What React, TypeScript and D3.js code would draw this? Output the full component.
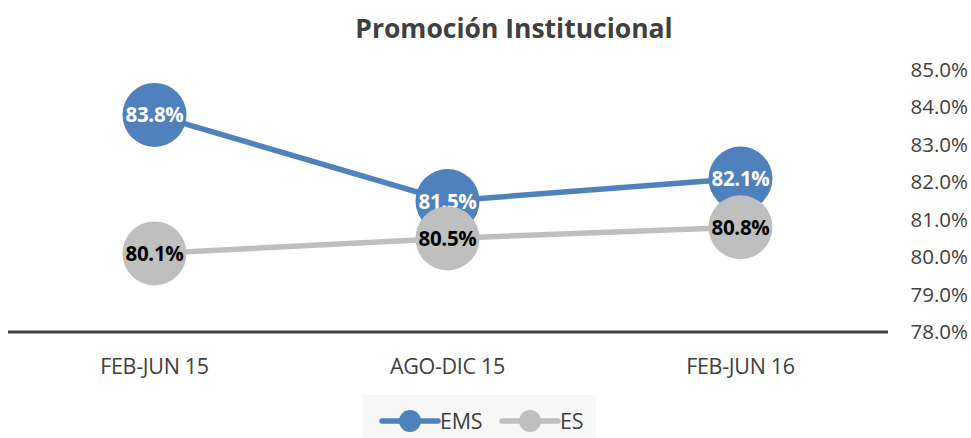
import React from "react";
import * as d3 from "d3";

const categories = ["FEB-JUN 15", "AGO-DIC 15", "FEB-JUN 16"];
const emsValues = [83.8, 81.5, 82.1];
const esValues = [80.1, 80.5, 80.8];
const yTicks = [78, 79, 80, 81, 82, 83, 84, 85];
const seriesNames = ["EMS", "ES"];

const W = 971;
const H = 438;
const FONT = "'Open Sans', 'Noto Sans', sans-serif";

export default function App() {
  const x = d3.scaleBand<string>().domain(categories).range([8, 887]);
  const y = d3.scaleLinear().domain([78, 85]).range([332, 70]);
  const cx = (c: string) => (x(c) as number) + x.bandwidth() / 2;
  const line = d3
    .line<number>()
    .x((_, i) => cx(categories[i]))
    .y((d) => y(d));

  const series = [
    { name: seriesNames[0], values: emsValues, color: "#4F81BD", text: "#ffffff" },
    { name: seriesNames[1], values: esValues, color: "#BFBFBF", text: "#000000" },
  ];

  return (
    <svg width={W} height={H} style={{ position: "absolute", left: 0, top: 0 }} fontFamily={FONT}>
      <rect width={W} height={H} fill="#ffffff" />
      <text x={514} y={38} textAnchor="middle" fontSize={26.5} fontWeight="bold" fill="#404040">
        Promoción Institucional
      </text>
      {yTicks.map((t) => (
        <text key={t} x={968} y={y(t) + 7} textAnchor="end" fontSize={20.5} fill="#404040">
          {d3.format(".1f")(t)}%
        </text>
      ))}
      <line x1={8} x2={888} y1={y(78)} y2={y(78)} stroke="#404040" strokeWidth={3} />
      {categories.map((c) => (
        <text key={c} x={cx(c)} y={374} textAnchor="middle" fontSize={21.5} fill="#404040" letterSpacing={-0.3}>
          {c}
        </text>
      ))}
      {series.map((s) => (
        <g key={s.name}>
          <path d={line(s.values) || ""} fill="none" stroke={s.color} strokeWidth={5.5} />
        </g>
      ))}
      {series.map((s) => (
        <g key={s.name + "m"}>
          {s.values.map((v, i) => (
            <g key={i}>
              <circle cx={cx(categories[i])} cy={y(v)} r={32} fill={s.color} />
              <text
                x={cx(categories[i])}
                y={y(v) + 7.5}
                textAnchor="middle"
                fontSize={20.5}
                fontWeight="bold"
                fill={s.text}
                letterSpacing={-0.3}
              >
                {d3.format(".1f")(v)}%
              </text>
            </g>
          ))}
        </g>
      ))}
      <rect x={363} y={395} width={233} height={43} fill="#f7f7f7" />
      {series.map((s, i) => {
        const lx = i === 0 ? 382 : 502;
        return (
          <g key={s.name + "l"}>
            <line x1={lx} x2={lx + 56} y1={421} y2={421} stroke={s.color} strokeWidth={5.5} strokeLinecap="round" />
            <circle cx={lx + 28} cy={421} r={11} fill={s.color} />
            <text x={lx + 58} y={429} fontSize={21.5} fill="#404040" letterSpacing={-0.3}>
              {s.name}
            </text>
          </g>
        );
      })}
    </svg>
  );
}
